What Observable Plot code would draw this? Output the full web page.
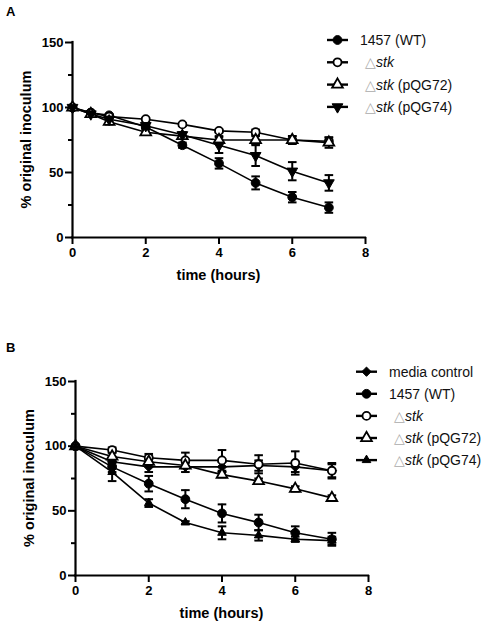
<!DOCTYPE html>
<html>
<head>
<meta charset="utf-8">
<script src="https://cdn.jsdelivr.net/npm/d3@7"></script>
<script src="https://cdn.jsdelivr.net/npm/@observablehq/plot@0.6"></script>
<style>
  html, body { margin: 0; padding: 0; background: #fff; }
  #chart svg { display: block; }
</style>
</head>
<body>
<div id="chart"></div>
<script>
// ---------- Panel A data ----------
const timesA = [0, 0.5, 1, 2, 3, 4, 5, 6, 7];
const seriesA = ["1457 (WT)", "\u25B3stk", "\u25B3stk (pQG72)", "\u25B3stk (pQG74)"];
const wtA      = [100, 96, 94, 85, 71, 57, 42, 31, 23];
const wtA_err  = [0, 1, 1, 1, 2, 4, 5, 4, 4];
const stkA     = [100, 96, 93, 91, 87, 82, 81, 75, 74];
const stkA_err = [0, 1, 1, 1, 1, 1, 2, 3, 3];
const p72A     = [100, 95, 89, 81, 78, 75, 75, 75, 73];
const p72A_err = [0, 2, 2, 2, 2, 3, 3, 3, 4];
const p74A     = [100, 95, 91, 86, 79, 71, 63, 51, 42];
const p74A_err = [0, 1, 2, 2, 2, 6, 8, 7, 6];

// ---------- Panel B data ----------
const timesB = [0, 1, 2, 3, 4, 5, 6, 7];
const seriesB = ["media control", "1457 (WT)", "\u25B3stk", "\u25B3stk (pQG72)", "\u25B3stk (pQG74)"];
const mediaB     = [100, 88, 84, 84, 84, 85, 84, 81];
const mediaB_err = [0, 3, 4, 4, 4, 4, 4, 5];
const wtB        = [100, 84, 71, 59, 48, 41, 33, 28];
const wtB_err    = [0, 4, 6, 7, 7, 6, 5, 5];
const stkB       = [100, 97, 91, 89, 89, 86, 87, 81];
const stkB_err   = [0, 2, 3, 6, 8, 7, 9, 6];
const p72B       = [100, 92, 88, 85, 78, 73, 67, 60];
const p72B_err   = [0, 3, 2, 2, 2, 2, 2, 2];
const p74B       = [100, 80, 56, 41, 33, 31, 28, 27];
const p74B_err   = [0, 7, 3, 1, 5, 4, 2, 3];

// ---------- symbols ----------
const triDown = {
  draw(ctx, size) {
    const y = -Math.sqrt(size / (Math.sqrt(3) * 3));
    ctx.moveTo(0, -y * 2);
    ctx.lineTo(-Math.sqrt(3) * y, y);
    ctx.lineTo(Math.sqrt(3) * y, y);
    ctx.closePath();
  }
};
const capSym = {
  draw(ctx, size) {
    const w = Math.sqrt(size / Math.PI);
    ctx.moveTo(-w, 0);
    ctx.lineTo(w, 0);
  }
};
const styles = {
  wt:    {symbol: d3.symbolCircle, fill: "black", stroke: "black", r: 4.4, sw: 1},
  stk:   {symbol: d3.symbolCircle, fill: "white", stroke: "black", r: 4, sw: 1.8},
  p72:   {symbol: d3.symbolTriangle, fill: "white", stroke: "black", r: 4, sw: 1.8},
  p74:   {symbol: triDown, fill: "black", stroke: "black", r: 4, sw: 1},
  media: {symbol: d3.symbolDiamond2, fill: "black", stroke: "black", r: 4.2, sw: 1},
  p74s:  {symbol: d3.symbolTriangle, fill: "black", stroke: "black", r: 3.2, sw: 1}
};

function rowsOf(name, times, vals, errs) {
  return times.map((t, i) => ({series: name, t, v: vals[i], e: errs[i]}));
}

const dataA = [
  {name: seriesA[0], rows: rowsOf(seriesA[0], timesA, wtA, wtA_err), st: styles.wt},
  {name: seriesA[1], rows: rowsOf(seriesA[1], timesA, stkA, stkA_err), st: styles.stk},
  {name: seriesA[2], rows: rowsOf(seriesA[2], timesA, p72A, p72A_err), st: styles.p72},
  {name: seriesA[3], rows: rowsOf(seriesA[3], timesA, p74A, p74A_err), st: styles.p74}
];
const dataB = [
  {name: seriesB[0], rows: rowsOf(seriesB[0], timesB, mediaB, mediaB_err), st: styles.media},
  {name: seriesB[1], rows: rowsOf(seriesB[1], timesB, wtB, wtB_err), st: styles.wt},
  {name: seriesB[2], rows: rowsOf(seriesB[2], timesB, stkB, stkB_err), st: styles.stk},
  {name: seriesB[3], rows: rowsOf(seriesB[3], timesB, p72B, p72B_err), st: styles.p72},
  {name: seriesB[4], rows: rowsOf(seriesB[4], timesB, p74B, p74B_err), st: styles.p74s}
];

const FONT = "'Liberation Sans', Arial, Helvetica, sans-serif";

function panel(data, cfg) {
  const all = data.flatMap(d => d.rows);
  const errRows = all.filter(d => d.e > 0);
  const caps = errRows.flatMap(d => [{t: d.t, y: d.v - d.e}, {t: d.t, y: d.v + d.e}]);
  const marks = [
    Plot.axisY({ticks: [0, 50, 100, 150], tickSize: 7, tickPadding: 2, strokeWidth: 2, label: null,
                fontSize: 13, fontWeight: "bold", fill: "black"}),
    Plot.axisY({ticks: [25, 75, 125], tickSize: 4, strokeWidth: 2, tickFormat: () => "", label: null}),
    Plot.axisX({ticks: [0, 2, 4, 6, 8], tickSize: 7, tickPadding: 3, strokeWidth: 2, label: null,
                fontSize: 13, fontWeight: "bold", fill: "black"}),
    Plot.ruleX([0], {y1: 0, y2: 150, strokeWidth: 2.2, strokeLinecap: "square"}),
    Plot.ruleY([0], {x1: 0, x2: 8, strokeWidth: 2.2, strokeLinecap: "square"}),
    Plot.ruleX(errRows, {x: "t", y1: d => d.v - d.e, y2: d => d.v + d.e, strokeWidth: 2, stroke: "black"}),
    Plot.dot(caps, {x: "t", y: "y", symbol: capSym, r: 4.3, stroke: "black", strokeWidth: 2}),
    Plot.line(all, {x: "t", y: "v", z: "series", stroke: "black", strokeWidth: 1.6})
  ];
  for (const d of data) {
    marks.push(Plot.dot(d.rows, {x: "t", y: "v", symbol: d.st.symbol, r: d.st.r,
      fill: d.st.fill, stroke: d.st.stroke, strokeWidth: d.st.sw}));
  }
  const svgEl = Plot.plot({
    width: 487, height: cfg.height,
    marginLeft: cfg.ml, marginRight: cfg.mr, marginTop: cfg.mt, marginBottom: cfg.mb,
    x: {domain: [0, 8]}, y: {domain: [0, 150]},
    style: {fontFamily: FONT, fontSize: "13px", color: "black", background: "white", overflow: "visible"},
    marks
  });
  const svg = d3.select(svgEl);
  const x0 = cfg.ml, x1 = 487 - cfg.mr, yTop = cfg.mt, yBot = cfg.height - cfg.mb;
  // panel letter
  svg.append("text").attr("x", 6).attr("y", cfg.letterY).attr("font-family", FONT)
    .attr("text-anchor", "start")
    .attr("font-weight", "bold").attr("font-size", 13).text(cfg.letter);
  // axis titles
  svg.append("text").attr("x", (x0 + x1) / 2).attr("y", yBot + 43).attr("text-anchor", "middle")
    .attr("font-family", FONT).attr("font-weight", "bold").attr("font-size", 14.5).text("time (hours)");
  svg.append("text").attr("transform", `translate(${x0 - 41},${(yTop + yBot) / 2}) rotate(-90)`)
    .attr("text-anchor", "middle").attr("font-family", FONT).attr("font-weight", "bold")
    .attr("font-size", 14.5).text("% original inoculum");
  // legend
  const lg = svg.append("g").attr("text-anchor", "start");
  data.forEach((d, i) => {
    const cy = cfg.legY + i * cfg.legStep;
    const g = lg.append("g");
    g.append("line").attr("x1", cfg.legX).attr("x2", cfg.legX + 21).attr("y1", cy).attr("y2", cy)
      .attr("stroke", "black").attr("stroke-width", 2.4);
    g.append("path").attr("transform", `translate(${cfg.legX + 10.5},${cy})`)
      .attr("d", d3.symbol(d.st.symbol, Math.PI * d.st.r * d.st.r)())
      .attr("fill", d.st.fill).attr("stroke", d.st.stroke).attr("stroke-width", d.st.sw);
    const t = g.append("text").attr("y", cy + 5).attr("font-family", FONT).attr("font-size", 14)
      .attr("text-anchor", "start").attr("fill", "#111");
    if (d.name.startsWith("\u25B3")) {
      t.attr("x", cfg.legX + 38);
      t.append("tspan").attr("fill", "#aaa").text("\u25B3");
      const rest = d.name.slice(1);
      const sp = rest.indexOf(" ");
      const it = sp < 0 ? rest : rest.slice(0, sp);
      t.append("tspan").attr("font-style", "italic").text(it);
      if (sp >= 0) t.append("tspan").text(rest.slice(sp));
    } else {
      t.attr("x", cfg.legX + 33).text(d.name);
    }
  });
  return svgEl;
}

const chart = document.getElementById("chart");
chart.appendChild(panel(dataA, {height: 310, ml: 72, mr: 122, mt: 42, mb: 73,
  letter: "A", letterY: 16, legX: 327, legY: 40, legStep: 22.3}));
chart.appendChild(panel(dataB, {height: 317, ml: 75, mr: 119, mt: 71, mb: 52,
  letter: "B", letterY: 42, legX: 356, legY: 61.7, legStep: 22.1}));
</script>
</body>
</html>
